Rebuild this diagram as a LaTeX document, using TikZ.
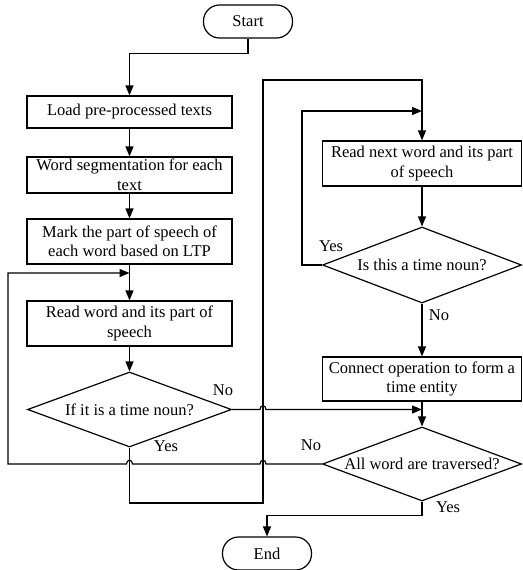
\documentclass[tikz,border=0pt]{standalone}
\usepackage{fontspec}
\setmainfont{Liberation Serif}
\usetikzlibrary{shapes.geometric,arrows.meta}

\begin{document}
\begin{tikzpicture}[x=1pt,y=1pt,line width=1.2pt,
  font=\fontsize{16.5}{19.5}\selectfont,
  box/.style={draw,rectangle,minimum width=205pt,align=center,inner sep=0pt},
  rbox/.style={box,minimum width=199pt},
  decision/.style={draw,diamond,aspect=2.7,inner sep=0pt,minimum width=204pt,minimum height=75pt},
  terminal/.style={draw,rectangle,rounded corners=16pt,minimum width=89pt,minimum height=33pt},
  flow/.style={-{Triangle[length=10pt,width=8pt]}}]

\useasboundingbox (0,0) rectangle (522,-570);

\node[terminal] (start) at (248,-21.5) {Start};
\node[box,minimum height=32pt] (load) at (129.5,-112) {Load pre-processed texts};
\node[box,minimum height=36pt] (seg) at (129.5,-175) {Word segmentation for each\\text};
\node[box,minimum height=45pt] (mark) at (129.5,-241.5) {Mark the part of speech of\\each word based on LTP};
\node[box,minimum height=45pt] (read) at (129.5,-323.5) {Read word and its part of\\speech};
\node[decision] (if) at (129.5,-409.5) {If it is a time noun?};

\node[rbox,minimum height=45pt] (rnext) at (422,-163.5) {Read next word and its part\\of speech};
\node[decision,minimum width=199pt,minimum height=76pt] (isthis) at (422,-265) {Is this a time noun?};
\node[rbox,minimum height=44pt] (conn) at (422,-379) {Connect operation to form a\\time entity};
\node[decision,minimum width=199pt,minimum height=74pt] (all) at (422,-464) {All word are traversed?};
\node[terminal] (end) at (267,-553.5) {End};

\coordinate (upper) at (263,-80);
\coordinate (lower) at (263,-503);
\coordinate (yesjoin) at (422,-111);
\coordinate (nojoin) at (422,-409.5);
\coordinate (loopjoin) at (129.5,-273);

\draw[flow] (start.south) -- ++(0,-15) -| (load.north);
\draw[flow] (load) -- (seg);
\draw[flow] (seg) -- (mark);
\draw[flow] (mark) -- (read);
\draw[flow] (read) -- (if);
\draw[flow] (if.south) |- (lower) -- (upper) -| (rnext.north);
\draw[flow] (rnext) -- (isthis);
\draw[flow] (isthis.west) -- ++(-20,0) |- (yesjoin);
\draw[flow] (isthis) -- (conn);
\draw[flow] (conn) -- (all);
\draw[flow] (if.east) -- (260,-409.5) .. controls (260,-404.5) and (266,-404.5) .. (266,-409.5) -- (nojoin);
\draw[flow] (all.west) -- (266,-464) .. controls (266,-459) and (260,-459) .. (260,-464)
  -- (132.5,-464) .. controls (132.5,-459) and (126.5,-459) .. (126.5,-464) -- (8,-464) |- (loopjoin);
\draw[flow] (all.south) -- ++(0,-14) -| (end.north);

\node (lno1) at (223,-390) {No};
\node (lyes1) at (166,-446) {Yes};
\node (lyes2) at (331,-246) {Yes};
\node (lno2) at (439,-315) {No};
\node (lno3) at (311,-445) {No};
\node (lyes3) at (448,-507) {Yes};

\end{tikzpicture}
\end{document}
